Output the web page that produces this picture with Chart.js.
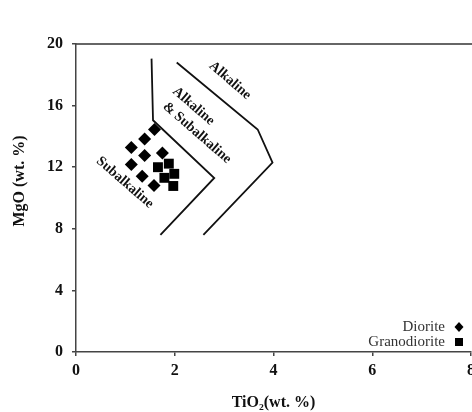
<!DOCTYPE html>
<html>
<head>
<meta charset="utf-8">
<script src="https://cdn.jsdelivr.net/npm/chart.js@4"></script>
<style>
  html, body { margin: 0; padding: 0; overflow: hidden; background: #fff; }
  canvas { display: block; }
</style>
</head>
<body>
<canvas id="chart" width="480" height="412"></canvas>
<script>
// samples
const dioriteTiO2 = [1.59, 1.39, 1.12, 1.39, 1.75, 1.12, 1.34, 1.58];
const dioriteMgO  = [14.45, 13.83, 13.28, 12.76, 12.93, 12.18, 11.42, 10.81];
const granoTiO2   = [1.66, 1.88, 1.79, 1.99, 1.97];
const granoMgO    = [12.00, 12.23, 11.31, 11.57, 10.78];

// field boundaries
const innerLineTiO2 = [1.53, 1.56, 2.80, 1.71];
const innerLineMgO  = [19.05, 15.05, 11.30, 7.60];
const outerLineTiO2 = [2.04, 3.68, 3.98, 2.58];
const outerLineMgO  = [18.80, 14.45, 12.30, 7.60];

const xTicks = [0, 2, 4, 6, 8];
const yTicks = [0, 4, 8, 12, 16, 20];

const seriesNames = ['Diorite', 'Granodiorite'];

// field names, placed in data units
const fieldLabels = [
  { text: 'Alkaline',      x: 3.12, y: 17.63 },
  { text: 'Alkaline',      x: 2.38, y: 15.96 },
  { text: '& Subalkaline', x: 2.45, y: 14.23 },
  { text: 'Subalkaline',   x: 0.99, y: 11.00 }
];

const pts = (xs, ys) => xs.map((v, i) => ({ x: v, y: ys[i] }));

const serif = '"Liberation Serif", "DejaVu Serif", serif';
const ink = '#111';
const axisGrey = '#444';

const extras = {
  id: 'extras',
  afterDatasetsDraw(chart) {
    const { ctx, chartArea, scales: { x, y } } = chart;
    ctx.save();
    ctx.fillStyle = ink;
    ctx.textAlign = 'center';
    ctx.textBaseline = 'middle';

    // field names along the boundaries
    ctx.font = 'bold 14px ' + serif;
    fieldLabels.forEach(l => {
      ctx.save();
      ctx.translate(x.getPixelForValue(l.x), y.getPixelForValue(l.y));
      ctx.rotate(41 * Math.PI / 180);
      ctx.fillText(l.text, 0, 0);
      ctx.restore();
    });

    // y axis title
    ctx.save();
    ctx.font = 'bold 16px ' + serif;
    ctx.translate(20, (chartArea.top + chartArea.bottom) / 2 - 17);
    ctx.rotate(-Math.PI / 2);
    ctx.fillText('MgO (wt. %)', 0, 0);
    ctx.restore();

    // legend, bottom right
    ctx.font = '15px ' + serif;
    ctx.fillStyle = '#333';
    ctx.textAlign = 'right';
    const tx = chartArea.right - 26;
    const mx = chartArea.right - 12;
    const ly = [chartArea.bottom - 25, chartArea.bottom - 10];
    ctx.fillText(seriesNames[0], tx, ly[0]);
    ctx.fillText(seriesNames[1], tx, ly[1]);
    ctx.fillStyle = '#000';
    ctx.beginPath();
    ctx.moveTo(mx, ly[0] - 5);
    ctx.lineTo(mx + 4.5, ly[0]);
    ctx.lineTo(mx, ly[0] + 5);
    ctx.lineTo(mx - 4.5, ly[0]);
    ctx.closePath();
    ctx.fill();
    ctx.fillRect(mx - 4, ly[1] - 4, 8, 8);
    ctx.restore();
  }
};

new Chart(document.getElementById('chart'), {
  type: 'scatter',
  data: {
    datasets: [
      {
        label: 'inner boundary',
        data: pts(innerLineTiO2, innerLineMgO),
        showLine: true, pointRadius: 0,
        borderColor: ink, borderWidth: 1.8, fill: false
      },
      {
        label: 'outer boundary',
        data: pts(outerLineTiO2, outerLineMgO),
        showLine: true, pointRadius: 0,
        borderColor: ink, borderWidth: 1.8, fill: false
      },
      {
        label: seriesNames[0],
        data: pts(dioriteTiO2, dioriteMgO),
        pointStyle: 'rectRot', pointRadius: 6.5,
        backgroundColor: '#000', borderWidth: 0
      },
      {
        label: seriesNames[1],
        data: pts(granoTiO2, granoMgO),
        pointStyle: 'rect', pointRadius: 7,
        backgroundColor: '#000', borderWidth: 0
      }
    ]
  },
  options: {
    responsive: false,
    animation: false,
    devicePixelRatio: 1,
    layout: { padding: { top: 44, left: 0, right: 7, bottom: 0 } },
    plugins: { legend: { display: false }, tooltip: { enabled: false } },
    scales: {
      x: {
        type: 'linear', min: 0, max: 8,
        afterBuildTicks: s => { s.ticks = xTicks.map(v => ({ value: v })); },
        afterFit: s => { s.height = 60; },
        grid: { drawOnChartArea: false, tickLength: 4, color: axisGrey, lineWidth: 1.5 },
        border: { display: true, color: axisGrey, width: 1.5 },
        ticks: { color: ink, padding: 5, maxRotation: 0, font: { family: serif, size: 16, weight: 'bold' } },
        title: {
          display: true, text: 'TiO₂(wt. %)', color: ink,
          padding: { top: 0, bottom: 0 },
          font: { family: serif, size: 16, weight: 'bold' }
        }
      },
      x2: {
        type: 'linear', position: 'top', min: 0, max: 8,
        afterFit: s => { s.height = 0; },
        grid: { display: false, drawTicks: false },
        ticks: { display: false },
        border: { display: true, color: '#666', width: 2 }
      },
      y: {
        type: 'linear', min: 0, max: 20,
        afterBuildTicks: s => { s.ticks = yTicks.map(v => ({ value: v })); },
        afterFit: s => { s.width = 76; },
        grid: { drawOnChartArea: false, tickLength: 4, color: axisGrey, lineWidth: 1.5 },
        border: { display: true, color: axisGrey, width: 1.5 },
        ticks: { color: ink, padding: 9, font: { family: serif, size: 16, weight: 'bold' } }
      }
    }
  },
  plugins: [extras]
});
</script>
</body>
</html>
